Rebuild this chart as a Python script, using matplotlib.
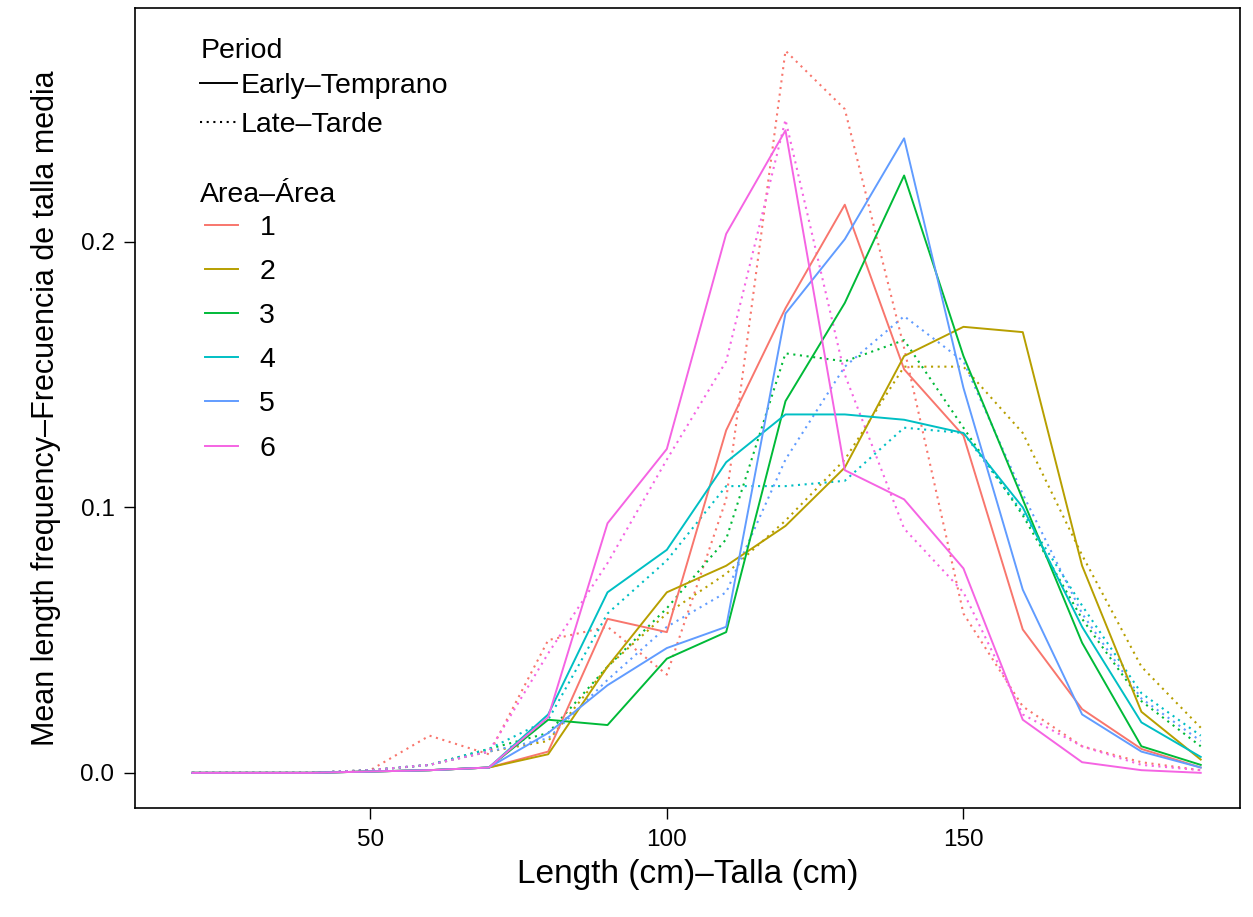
import numpy as np
import matplotlib
matplotlib.use("Agg")
import matplotlib.pyplot as plt
from matplotlib.lines import Line2D

plt.rcParams['font.family'] = ['Liberation Sans', 'DejaVu Sans']

# length classes (cm)
length = [20, 30, 40, 50, 60, 70, 80, 90, 100, 110, 120, 130, 140, 150, 160, 170, 180, 190]

# early period - mean length frequency per area
early_1 = [0, 0, 0, 0.0005, 0.001, 0.002, 0.008, 0.058, 0.053, 0.129, 0.175, 0.214, 0.152, 0.127, 0.054, 0.024, 0.009, 0.002]
early_2 = [0, 0, 0, 0.0005, 0.001, 0.002, 0.007, 0.040, 0.068, 0.078, 0.093, 0.115, 0.157, 0.168, 0.166, 0.078, 0.023, 0.005]
early_3 = [0, 0, 0, 0.0005, 0.001, 0.002, 0.020, 0.018, 0.043, 0.053, 0.140, 0.177, 0.225, 0.157, 0.103, 0.049, 0.010, 0.003]
early_4 = [0, 0, 0, 0.0005, 0.001, 0.002, 0.022, 0.068, 0.084, 0.117, 0.135, 0.135, 0.133, 0.128, 0.100, 0.055, 0.019, 0.006]
early_5 = [0, 0, 0, 0.0005, 0.001, 0.002, 0.015, 0.033, 0.047, 0.055, 0.173, 0.201, 0.239, 0.145, 0.069, 0.022, 0.008, 0.002]
early_6 = [0, 0, 0, 0.0005, 0.001, 0.002, 0.021, 0.094, 0.122, 0.203, 0.242, 0.114, 0.103, 0.077, 0.020, 0.004, 0.001, 0.000]

# late period
late_1 = [0, 0, 0, 0.001, 0.014, 0.007, 0.050, 0.055, 0.037, 0.103, 0.272, 0.250, 0.160, 0.060, 0.025, 0.010, 0.004, 0.001]
late_2 = [0, 0, 0, 0.001, 0.003, 0.008, 0.012, 0.040, 0.060, 0.075, 0.095, 0.118, 0.153, 0.153, 0.128, 0.082, 0.040, 0.017]
late_3 = [0, 0, 0, 0.001, 0.003, 0.009, 0.015, 0.040, 0.062, 0.088, 0.158, 0.155, 0.163, 0.130, 0.097, 0.058, 0.027, 0.010]
late_4 = [0, 0, 0, 0.001, 0.003, 0.009, 0.020, 0.060, 0.080, 0.108, 0.108, 0.110, 0.130, 0.128, 0.098, 0.063, 0.030, 0.014]
late_5 = [0, 0, 0, 0.001, 0.003, 0.008, 0.013, 0.035, 0.055, 0.068, 0.118, 0.153, 0.172, 0.155, 0.105, 0.060, 0.028, 0.012]
late_6 = [0, 0, 0, 0.001, 0.003, 0.008, 0.045, 0.079, 0.118, 0.155, 0.246, 0.150, 0.092, 0.068, 0.022, 0.010, 0.003, 0.001]

areas = ["1", "2", "3", "4", "5", "6"]
colors = ["#F8766D", "#B79F00", "#00BA38", "#00BFC4", "#619CFF", "#F564E3"]
early = [early_1, early_2, early_3, early_4, early_5, early_6]
late = [late_1, late_2, late_3, late_4, late_5, late_6]

fig = plt.figure(figsize=(12.53, 9.17), dpi=100)
ax = fig.add_axes([0.108, 0.119, 0.882, 0.872])

dot = (0, (1, 2.2))
for i in range(6):
    ax.plot(length, late[i], color=colors[i], lw=1.5, linestyle=dot)
for i in range(6):
    ax.plot(length, early[i], color=colors[i], lw=1.4)

ax.set_xlim(10.4, 196.7)
ax.set_ylim(-0.0132, 0.288)
ax.set_xticks([50, 100, 150])
ax.set_yticks([0.0, 0.1, 0.2])
ax.set_yticklabels(["0.0", "0.1", "0.2"])
ax.tick_params(labelsize=17.5, length=8, width=1, pad=7, direction="out")
for s in ax.spines.values():
    s.set_linewidth(1.2)

ax.set_xlabel("Length (cm)\u2013Talla (cm)", fontsize=24, labelpad=6)
ax.set_ylabel("Mean length frequency\u2013Frecuencia de talla media", fontsize=22, labelpad=14)

fs = 20.5
# legend for period (line type)
ax.text(0.0588, 0.947, "Period", transform=ax.transAxes, fontsize=fs, va="center", ha="left")
h1 = [Line2D([], [], color="black", lw=1.4),
      Line2D([], [], color="black", lw=1.5, linestyle=dot)]
leg1 = ax.legend(h1, ["Early\u2013Temprano", "Late\u2013Tarde"],
                 loc="upper left", bbox_to_anchor=(0.0588, 0.9185), frameon=False,
                 fontsize=fs, handlelength=1.3, handletextpad=0.12, labelspacing=0.45,
                 borderaxespad=0, borderpad=0)
ax.add_artist(leg1)

# legend for area (colour)
ax.text(0.0588, 0.767, "Area\u2013\u00c1rea", transform=ax.transAxes, fontsize=fs, va="center", ha="left")
h2 = [Line2D([], [], color=c, lw=1.4) for c in colors]
leg2 = ax.legend(h2, areas, loc="upper left",
                 bbox_to_anchor=(0.0633, 0.742), frameon=False,
                 fontsize=fs, handlelength=1.15, handletextpad=0.75, labelspacing=0.64,
                 borderaxespad=0, borderpad=0)

fig.savefig("out.png", dpi=100)
